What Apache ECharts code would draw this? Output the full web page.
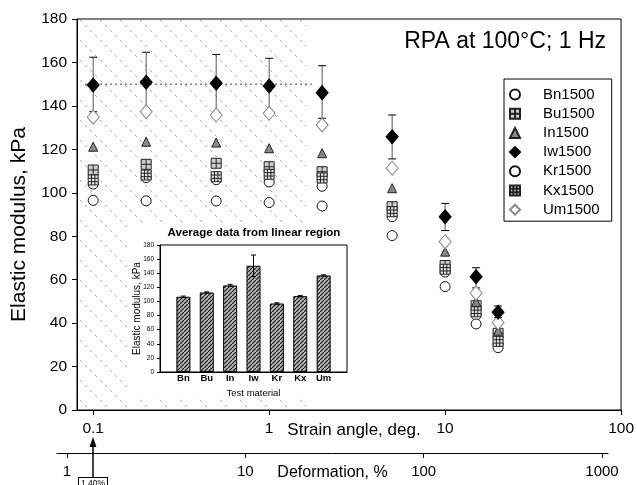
<!DOCTYPE html>
<html><head><meta charset="utf-8">
<script src="https://cdn.jsdelivr.net/npm/echarts@6/dist/echarts.min.js"></script>
<style>html,body{margin:0;padding:0;background:#fff}#c{width:637px;height:485px}</style>
</head><body><div id="c"></div>
<script>
// ---- data ----
const strainAngle = [0.1, 0.2, 0.5, 1, 2, 5, 10, 15, 20];
const seriesNames = ['Bn1500','Bu1500','In1500','Iw1500','Kr1500','Kx1500','Um1500'];
const bn = [104, 107, 106, 105, 103, 89, 63.5, 43.7, 30.5];
const bu = [110.5, 113.1, 113.6, 112, 109.7, 93.6, 66.5, 48, 35.3];
const inn = [121.2, 123.5, 123.1, 120.5, 118.2, 102.1, 72.9, 49.8, 36.5];
const iw = [149.6, 150.9, 150.4, 149.2, 146.1, 125.8, 89, 61.4, 45];
const kr = [96.5, 96.3, 96.2, 95.5, 93.9, 80.3, 56.8, 39.6, 28.7];
const kx = [105.9, 108.2, 107.4, 108.5, 106.8, 91.3, 64.8, 45.2, 31.6];
const um = [134.8, 137.3, 135.8, 136.6, 131.2, 111.3, 77.5, 53.8, 40.2];
const iwLow = [137.3, 137.5, 136.8, 137, 134.3, 115.6, 82.6, 56.2, 42.5];
const iwHigh = [162.4, 164.7, 163.7, 161.9, 158.5, 135.8, 95.1, 65.5, 47.9];
const plateauLevel = 150;
const plateauRange = [0.09, 1.75];
const linearRegion = [0.0809, 1.62];
const strainTicks = [0.1, 1, 10, 100];
const deformTicks = [1, 10, 100, 1000];
const insetCats = ['Bn','Bu','In','Iw','Kr','Kx','Um'];
const insetVals = [106.6, 112.7, 122.7, 150.6, 97.1, 107.5, 136.9];
const insetErr = [1, 0.8, 1.5, 15.2, 1, 0.8, 0.8];

const F = 'Liberation Sans, Arial, sans-serif';

function hatch() {
  const c = document.createElement('canvas'); c.width = 20; c.height = 20;
  const g = c.getContext('2d');
  g.strokeStyle = '#a2a2a2'; g.lineWidth = 0.9; g.setLineDash([3, 4]);
  g.beginPath(); g.moveTo(0, 0); g.lineTo(20, 20); g.stroke();
  return c;
}
function barHatch() {
  const c = document.createElement('canvas'); c.width = 4; c.height = 4;
  const g = c.getContext('2d');
  g.fillStyle = '#b4b4b4'; g.fillRect(0, 0, 4, 4);
  g.strokeStyle = '#1a1a1a'; g.lineWidth = 1.2;
  g.beginPath(); g.moveTo(-1, 5); g.lineTo(5, -1); g.stroke();
  return c;
}

function errRender(color, cap) {
  return function (params, api) {
    const x = api.value(0);
    const lo = api.coord([x, api.value(1)]);
    const hi = api.coord([x, api.value(2)]);
    return {
      type: 'group', children: [
        {type: 'line', shape: {x1: lo[0], y1: lo[1], x2: hi[0], y2: hi[1]}, style: {stroke: color, lineWidth: 1}},
        {type: 'line', shape: {x1: hi[0] - cap, y1: hi[1], x2: hi[0] + cap, y2: hi[1]}, style: {stroke: '#000', lineWidth: 1}},
        {type: 'line', shape: {x1: lo[0] - cap, y1: lo[1], x2: lo[0] + cap, y2: lo[1]}, style: {stroke: '#000', lineWidth: 1}}
      ]
    };
  };
}

const sqCross = 'path://M0,0L10,0L10,10L0,10Z M5,0L5,10 M0,5L10,5';
const sqGrid = 'path://M0,0L10,0L10,10L0,10Z M3.3,0L3.3,10 M6.7,0L6.7,10 M0,3.3L10,3.3 M0,6.7L10,6.7';

const pts = arr => strainAngle.map((x, i) => [x, arr[i]]);

const chart = echarts.init(document.getElementById('c'), null, {renderer: 'canvas'});
chart.setOption({
  animation: false,
  backgroundColor: '#fff',
  textStyle: {fontFamily: F},
  title: {
    text: 'RPA at 100°C; 1 Hz', right: 31, top: 30, padding: 0,
    textStyle: {fontSize: 23, fontWeight: 'normal', fontFamily: F, color: '#000'}
  },
  legend: {
    data: seriesNames, orient: 'vertical', left: 504, top: 79,
    padding: [8, 12, 4, 5], itemGap: 4.2, itemWidth: 10, itemHeight: 10,
    backgroundColor: '#fff', borderColor: '#000', borderWidth: 1, z: 10,
    textStyle: {fontSize: 15, fontFamily: F, color: '#000', padding: [0, 0, 0, 18]}
  },
  grid: [
    {left: 77, right: 14, top: 19, bottom: 75, show: true, borderColor: '#000', borderWidth: 1, backgroundColor: 'transparent'},
    {left: 160, right: 290, top: 245, bottom: 113, show: true, borderColor: '#000', borderWidth: 1, backgroundColor: '#fff', z: 3},
    {left: 57, right: 29, top: 452, bottom: 32}
  ],
  xAxis: [
    {gridIndex: 0, type: 'log', min: linearRegion[0], max: 100,
     axisLine: {lineStyle: {color: '#000', width: 1}},
     axisTick: {length: 5, lineStyle: {color: '#000'}, customValues: strainTicks},
     axisLabel: {customValues: strainTicks, margin: 11, fontSize: 15.5, color: '#000', fontFamily: F,
                 formatter: v => String(v)},
     splitLine: {show: false}, minorTick: {show: false}},
    {gridIndex: 1, type: 'value', min: 0, max: 8, interval: 1, z: 3,
     axisLine: {lineStyle: {color: '#000', width: 1}},
     axisTick: {show: false},
     axisLabel: {margin: 1, fontSize: 9.5, fontWeight: 'bold', color: '#000', fontFamily: F,
                 formatter: v => insetCats[v - 1] || ''},
     splitLine: {show: false},
     name: 'Test material', nameLocation: 'middle', nameGap: 16, nameMoveOverlap: false,
     nameTextStyle: {fontSize: 9.5, color: '#000', fontFamily: F}},
    {gridIndex: 2, type: 'log', min: 0.879, max: 1081,
     axisLine: {lineStyle: {color: '#000', width: 1}},
     axisTick: {length: 5, lineStyle: {color: '#000'}, customValues: deformTicks},
     axisLabel: {customValues: deformTicks, margin: 11, fontSize: 15, color: '#000', fontFamily: F,
                 showMinLabel: true, showMaxLabel: true, formatter: v => String(v)},
     splitLine: {show: false},
     name: 'Deformation, %', nameLocation: 'middle', nameGap: 12, nameMoveOverlap: false,
     nameTextStyle: {fontSize: 16, color: '#000', fontFamily: F}}
  ],
  yAxis: [
    {gridIndex: 0, type: 'value', min: 0, max: 180, interval: 20,
     axisLine: {show: true, lineStyle: {color: '#000', width: 1}},
     axisTick: {show: true, length: 5, lineStyle: {color: '#000'}},
     axisLabel: {margin: 10, fontSize: 15.5, color: '#000', fontFamily: F},
     splitLine: {show: false},
     name: 'Elastic modulus, kPa', nameLocation: 'middle', nameGap: 47, nameMoveOverlap: false,
     nameTextStyle: {fontSize: 21, color: '#000', fontFamily: F, padding: [0, 20, 0, 0]}},
    {gridIndex: 1, type: 'value', min: 0, max: 180, interval: 20, z: 3,
     axisLine: {show: true, lineStyle: {color: '#000', width: 1}},
     axisTick: {show: true, length: 3, lineStyle: {color: '#000'}},
     axisLabel: {margin: 6, fontSize: 6.5, color: '#000', fontFamily: F},
     splitLine: {show: false},
     name: 'Elastic modulus, kPa', nameLocation: 'middle', nameGap: 18, nameMoveOverlap: false,
     nameTextStyle: {fontSize: 10, color: '#000', fontFamily: F}},
    {gridIndex: 2, type: 'value', show: false}
  ],
  graphic: [
    {type: 'rect', z: 2, shape: {x: 128, y: 222, width: 224, height: 176}, style: {fill: '#fff'}, silent: true},
    {type: 'text', z: 4, x: 254, y: 233, style: {text: 'Average data from linear region', align: 'center', verticalAlign: 'middle',
      font: 'bold 11.5px ' + F, fill: '#000'}},
    {type: 'text', z: 4, x: 354, y: 430, style: {text: 'Strain angle, deg.', align: 'center', verticalAlign: 'middle',
      font: '17px ' + F, fill: '#000'}},
    {type: 'line', z: 4, shape: {x1: 93, y1: 478, x2: 93, y2: 444}, style: {stroke: '#000', lineWidth: 1.5}},
    {type: 'polygon', z: 4, shape: {points: [[89.5, 447], [96.5, 447], [93, 437]]}, style: {fill: '#000'}},
    {type: 'text', z: 4, x: 93, y: 478, style: {text: '1.40%', align: 'center', verticalAlign: 'top',
      font: '8.5px ' + F, fill: '#000', borderColor: '#000', borderWidth: 1, padding: [1, 2, 0, 2], backgroundColor: '#fff'}}
  ],
  series: [
    {type: 'line', xAxisIndex: 0, yAxisIndex: 0, z: 3, symbol: 'none', silent: true,
     data: plateauRange.map(x => [x, plateauLevel]),
     lineStyle: {color: '#333', width: 1, type: [2, 3]},
     markArea: {silent: true, z: 1, itemStyle: {color: {image: hatch(), repeat: 'repeat'}},
       data: [[{xAxis: linearRegion[0], yAxis: 0}, {xAxis: linearRegion[1], yAxis: 180}]]}},
    {type: 'bar', xAxisIndex: 1, yAxisIndex: 1, z: 4, barWidth: 14,
     data: insetCats.map((c, i) => [i + 1, insetVals[i]]),
     itemStyle: {color: {image: barHatch(), repeat: 'repeat'}, borderColor: '#000', borderWidth: 1}},
    {type: 'custom', xAxisIndex: 1, yAxisIndex: 1, z: 5,
     data: insetCats.map((c, i) => [i + 1, insetVals[i] - insetErr[i], insetVals[i] + insetErr[i]]),
     encode: {x: 0, y: [1, 2]}, renderItem: errRender('#000', 2.5)},
    {type: 'custom', xAxisIndex: 0, yAxisIndex: 0, z: 5,
     data: strainAngle.map((x, i) => [x, iwLow[i], iwHigh[i]]),
     encode: {x: 0, y: [1, 2]}, renderItem: errRender('#555', 4)},
    {name: 'Bn1500', type: 'scatter', z: 6, data: pts(bn), symbol: 'circle', symbolSize: 10,
     itemStyle: {color: '#fff', borderColor: '#111', borderWidth: 1, opacity: 1}},
    {name: 'Bu1500', type: 'scatter', z: 6, data: pts(bu), symbol: sqCross, symbolSize: 10,
     itemStyle: {color: '#cfcfcf', borderColor: '#222', borderWidth: 1, opacity: 1}},
    {name: 'In1500', type: 'scatter', z: 6, data: pts(inn), symbol: 'triangle', symbolSize: 9,
     itemStyle: {color: '#888', borderColor: '#222', borderWidth: 1, opacity: 1}},
    {name: 'Kr1500', type: 'scatter', z: 6, data: pts(kr), symbol: 'circle', symbolSize: 10,
     itemStyle: {color: '#fff', borderColor: '#111', borderWidth: 1, opacity: 1}},
    {name: 'Kx1500', type: 'scatter', z: 6, data: pts(kx), symbol: sqGrid, symbolSize: 10,
     itemStyle: {color: '#e2e2e2', borderColor: '#222', borderWidth: 1, opacity: 1}},
    {name: 'Um1500', type: 'scatter', z: 6, data: pts(um), symbol: 'diamond', symbolSize: [12, 14],
     itemStyle: {color: '#fff', borderColor: '#888', borderWidth: 1, opacity: 1}},
    {name: 'Iw1500', type: 'scatter', z: 7, data: pts(iw), symbol: 'diamond', symbolSize: [12, 14],
     itemStyle: {color: '#000', borderColor: '#000', borderWidth: 1, opacity: 1}}
  ]
});
</script></body></html>
